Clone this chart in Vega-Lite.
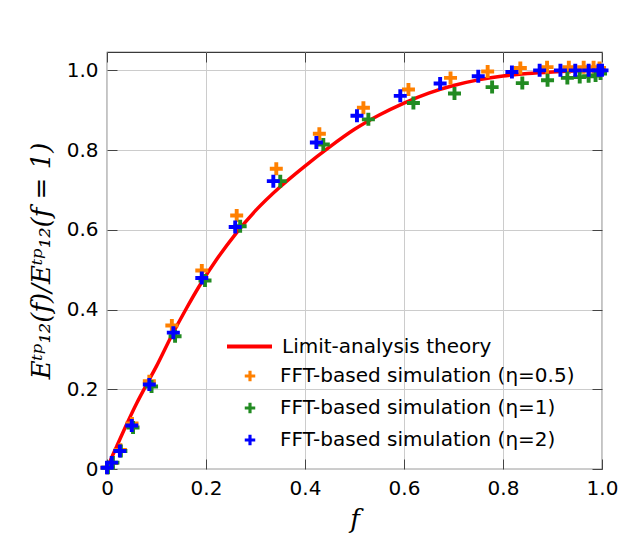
{
  "$schema": "https://vega.github.io/schema/vega-lite/v6.json",
  "width": 495,
  "height": 417,
  "autosize": "none",
  "padding": {"left": 107, "top": 52, "right": 17, "bottom": 75},
  "background": "white",
  "config": {
    "view": {"stroke": "#3a3a3a", "strokeWidth": 1.2},
    "axis": {
      "labelFont": "DejaVu Sans",
      "labelFontSize": 20,
      "labelColor": "#000000",
      "tickColor": "#444444",
      "tickSize": -10,
      "tickWidth": 1,
      "domain": false,
      "gridColor": "#cccccc",
      "gridWidth": 1,
      "titleColor": "#000000"
    },
    "legend": {
      "labelFont": "DejaVu Sans",
      "labelFontSize": 20,
      "labelColor": "#000000",
      "labelLimit": 500,
      "padding": 0
    }
  },
  "datasets": {
    "theory": [
      {"f": 0, "E": 0, "model": "Limit-analysis theory"},
      {"f": 0.01, "E": 0.03, "model": "Limit-analysis theory"},
      {"f": 0.02, "E": 0.058, "model": "Limit-analysis theory"},
      {"f": 0.04, "E": 0.113, "model": "Limit-analysis theory"},
      {"f": 0.06, "E": 0.165, "model": "Limit-analysis theory"},
      {"f": 0.08, "E": 0.212, "model": "Limit-analysis theory"},
      {"f": 0.10, "E": 0.258, "model": "Limit-analysis theory"},
      {"f": 0.13, "E": 0.333, "model": "Limit-analysis theory"},
      {"f": 0.16, "E": 0.402, "model": "Limit-analysis theory"},
      {"f": 0.19, "E": 0.466, "model": "Limit-analysis theory"},
      {"f": 0.22, "E": 0.523, "model": "Limit-analysis theory"},
      {"f": 0.26, "E": 0.590, "model": "Limit-analysis theory"},
      {"f": 0.30, "E": 0.648, "model": "Limit-analysis theory"},
      {"f": 0.35, "E": 0.708, "model": "Limit-analysis theory"},
      {"f": 0.40, "E": 0.760, "model": "Limit-analysis theory"},
      {"f": 0.45, "E": 0.808, "model": "Limit-analysis theory"},
      {"f": 0.50, "E": 0.852, "model": "Limit-analysis theory"},
      {"f": 0.55, "E": 0.888, "model": "Limit-analysis theory"},
      {"f": 0.60, "E": 0.918, "model": "Limit-analysis theory"},
      {"f": 0.65, "E": 0.943, "model": "Limit-analysis theory"},
      {"f": 0.70, "E": 0.962, "model": "Limit-analysis theory"},
      {"f": 0.75, "E": 0.976, "model": "Limit-analysis theory"},
      {"f": 0.80, "E": 0.986, "model": "Limit-analysis theory"},
      {"f": 0.85, "E": 0.992, "model": "Limit-analysis theory"},
      {"f": 0.90, "E": 0.996, "model": "Limit-analysis theory"},
      {"f": 0.95, "E": 0.999, "model": "Limit-analysis theory"},
      {"f": 1.00, "E": 1.0, "model": "Limit-analysis theory"}
    ],
    "sims": [
      {"f": 0.0, "E": 0.003, "series": "FFT-based simulation (η=0.5)"},
      {"f": 0.010, "E": 0.015, "series": "FFT-based simulation (η=0.5)"},
      {"f": 0.027, "E": 0.048, "series": "FFT-based simulation (η=0.5)"},
      {"f": 0.0505, "E": 0.114, "series": "FFT-based simulation (η=0.5)"},
      {"f": 0.0855, "E": 0.220, "series": "FFT-based simulation (η=0.5)"},
      {"f": 0.131, "E": 0.360, "series": "FFT-based simulation (η=0.5)"},
      {"f": 0.1915, "E": 0.498, "series": "FFT-based simulation (η=0.5)"},
      {"f": 0.262, "E": 0.636, "series": "FFT-based simulation (η=0.5)"},
      {"f": 0.342, "E": 0.753, "series": "FFT-based simulation (η=0.5)"},
      {"f": 0.429, "E": 0.841, "series": "FFT-based simulation (η=0.5)"},
      {"f": 0.518, "E": 0.906, "series": "FFT-based simulation (η=0.5)"},
      {"f": 0.609, "E": 0.952, "series": "FFT-based simulation (η=0.5)"},
      {"f": 0.694, "E": 0.981, "series": "FFT-based simulation (η=0.5)"},
      {"f": 0.769, "E": 0.997, "series": "FFT-based simulation (η=0.5)"},
      {"f": 0.835, "E": 1.006, "series": "FFT-based simulation (η=0.5)"},
      {"f": 0.889, "E": 1.008, "series": "FFT-based simulation (η=0.5)"},
      {"f": 0.933, "E": 1.008, "series": "FFT-based simulation (η=0.5)"},
      {"f": 0.963, "E": 1.008, "series": "FFT-based simulation (η=0.5)"},
      {"f": 0.983, "E": 1.008, "series": "FFT-based simulation (η=0.5)"},
      {"f": 0.995, "E": 1.006, "series": "FFT-based simulation (η=0.5)"},
      {"f": 0.002, "E": 0.003, "series": "FFT-based simulation (η=1)"},
      {"f": 0.012, "E": 0.016, "series": "FFT-based simulation (η=1)"},
      {"f": 0.028, "E": 0.045, "series": "FFT-based simulation (η=1)"},
      {"f": 0.0526, "E": 0.104, "series": "FFT-based simulation (η=1)"},
      {"f": 0.090, "E": 0.207, "series": "FFT-based simulation (η=1)"},
      {"f": 0.1375, "E": 0.333, "series": "FFT-based simulation (η=1)"},
      {"f": 0.198, "E": 0.473, "series": "FFT-based simulation (η=1)"},
      {"f": 0.269, "E": 0.609, "series": "FFT-based simulation (η=1)"},
      {"f": 0.350, "E": 0.722, "series": "FFT-based simulation (η=1)"},
      {"f": 0.437, "E": 0.814, "series": "FFT-based simulation (η=1)"},
      {"f": 0.528, "E": 0.877, "series": "FFT-based simulation (η=1)"},
      {"f": 0.619, "E": 0.918, "series": "FFT-based simulation (η=1)"},
      {"f": 0.702, "E": 0.942, "series": "FFT-based simulation (η=1)"},
      {"f": 0.778, "E": 0.958, "series": "FFT-based simulation (η=1)"},
      {"f": 0.839, "E": 0.968, "series": "FFT-based simulation (η=1)"},
      {"f": 0.890, "E": 0.975, "series": "FFT-based simulation (η=1)"},
      {"f": 0.930, "E": 0.981, "series": "FFT-based simulation (η=1)"},
      {"f": 0.955, "E": 0.983, "series": "FFT-based simulation (η=1)"},
      {"f": 0.973, "E": 0.985, "series": "FFT-based simulation (η=1)"},
      {"f": 0.987, "E": 0.987, "series": "FFT-based simulation (η=1)"},
      {"f": 0.997, "E": 0.992, "series": "FFT-based simulation (η=1)"},
      {"f": 0.0, "E": 0.003, "series": "FFT-based simulation (η=2)"},
      {"f": 0.0095, "E": 0.016, "series": "FFT-based simulation (η=2)"},
      {"f": 0.026, "E": 0.045, "series": "FFT-based simulation (η=2)"},
      {"f": 0.050, "E": 0.109, "series": "FFT-based simulation (η=2)"},
      {"f": 0.0855, "E": 0.212, "series": "FFT-based simulation (η=2)"},
      {"f": 0.134, "E": 0.342, "series": "FFT-based simulation (η=2)"},
      {"f": 0.1915, "E": 0.479, "series": "FFT-based simulation (η=2)"},
      {"f": 0.259, "E": 0.607, "series": "FFT-based simulation (η=2)"},
      {"f": 0.336, "E": 0.722, "series": "FFT-based simulation (η=2)"},
      {"f": 0.423, "E": 0.819, "series": "FFT-based simulation (η=2)"},
      {"f": 0.505, "E": 0.886, "series": "FFT-based simulation (η=2)"},
      {"f": 0.5925, "E": 0.936, "series": "FFT-based simulation (η=2)"},
      {"f": 0.673, "E": 0.967, "series": "FFT-based simulation (η=2)"},
      {"f": 0.750, "E": 0.985, "series": "FFT-based simulation (η=2)"},
      {"f": 0.818, "E": 0.996, "series": "FFT-based simulation (η=2)"},
      {"f": 0.874, "E": 1.0, "series": "FFT-based simulation (η=2)"},
      {"f": 0.916, "E": 1.0, "series": "FFT-based simulation (η=2)"},
      {"f": 0.946, "E": 1.0, "series": "FFT-based simulation (η=2)"},
      {"f": 0.973, "E": 1.0, "series": "FFT-based simulation (η=2)"},
      {"f": 0.993, "E": 1.0, "series": "FFT-based simulation (η=2)"},
      {"f": 1.0, "E": 1.0, "series": "FFT-based simulation (η=2)"}
    ]
  },
  "layer": [
    {
      "data": {"name": "theory"},
      "mark": {"type": "line", "strokeWidth": 3.5, "clip": true, "interpolate": "monotone"},
      "encoding": {
        "x": {
          "field": "f", "type": "quantitative",
          "scale": {"domain": [0, 1], "nice": false, "zero": false},
          "axis": {
            "orient": "bottom",
            "values": [0, 0.2, 0.4, 0.6, 0.8, 1.0],
            "labelExpr": "datum.value === 0 ? '0' : format(datum.value, '.1f')",
            "labelPadding": 19,
            "labelFlush": false,
            "grid": true,
            "title": "f",
            "titleFont": "DejaVu Serif",
            "titleFontStyle": "italic",
            "titleFontWeight": "normal",
            "titleFontSize": 26,
            "titlePadding": 8
          }
        },
        "y": {
          "field": "E", "type": "quantitative",
          "scale": {"domain": [0, 1.046], "nice": false, "zero": false},
          "axis": {
            "orient": "left",
            "values": [0, 0.2, 0.4, 0.6, 0.8, 1.0],
            "labelExpr": "datum.value === 0 ? '0' : format(datum.value, '.1f')",
            "labelPadding": 19,
            "labelFlush": false,
            "grid": true,
            "title": "Eᵗᵖ₁₂(f)/Eᵗᵖ₁₂(f = 1)",
            "titleFont": "DejaVu Serif",
            "titleFontStyle": "italic",
            "titleFontWeight": "normal",
            "titleFontSize": 26,
            "titlePadding": 12
          }
        },
        "stroke": {
          "field": "model", "type": "nominal",
          "scale": {"domain": ["Limit-analysis theory"], "range": ["#ff0000"]},
          "legend": {
            "orient": "none",
            "legendX": 118,
            "legendY": 270,
            "title": null,
            "symbolType": "stroke",
            "symbolSize": 2025,
            "symbolStrokeWidth": 4,
            "labelOffset": 8
          }
        }
      }
    },
    {
      "data": {"name": "sims"},
      "mark": {
        "type": "point",
        "filled": true,
        "opacity": 1,
        "size": 169,
        "shape": "M-1,-0.3H1V0.3H-1Z M-0.3,-1H0.3V1H-0.3Z",
        "clip": false
      },
      "encoding": {
        "x": {
          "field": "f", "type": "quantitative",
          "scale": {"domain": [0, 1], "nice": false, "zero": false},
          "axis": {"orient": "top", "values": [0, 0.2, 0.4, 0.6, 0.8, 1.0], "labels": false, "grid": false, "title": null}
        },
        "y": {
          "field": "E", "type": "quantitative",
          "scale": {"domain": [0, 1.046], "nice": false, "zero": false},
          "axis": {"orient": "right", "values": [0, 0.2, 0.4, 0.6, 0.8, 1.0], "labels": false, "grid": false, "title": null}
        },
        "fill": {
          "field": "series", "type": "nominal",
          "scale": {
            "domain": ["FFT-based simulation (η=0.5)", "FFT-based simulation (η=1)", "FFT-based simulation (η=2)"],
            "range": ["#ff8000", "#228b22", "#0000ff"]
          },
          "legend": {
            "orient": "none",
            "legendX": 133,
            "legendY": 314,
            "title": null,
            "symbolType": "M-1,-0.3H1V0.3H-1Z M-0.3,-1H0.3V1H-0.3Z",
            "symbolSize": 110,
            "symbolStrokeWidth": 0,
            "labelOffset": 20,
            "rowPadding": 12
          }
        }
      }
    }
  ],
  "resolve": {"axis": {"x": "independent", "y": "independent"}}
}
